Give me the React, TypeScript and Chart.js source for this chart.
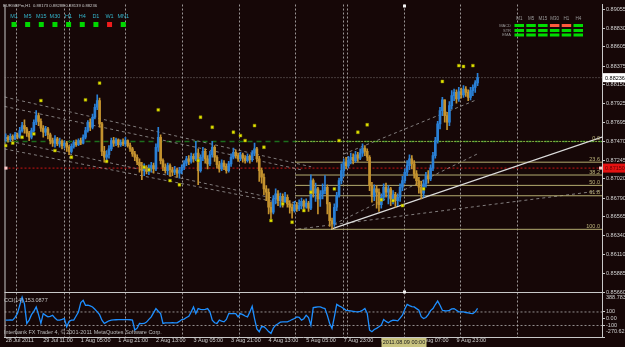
import React, { useEffect, useRef } from 'react';
import { Chart, registerables } from 'chart.js';

Chart.register(...registerables);

const BG = '#160707';
const AXIS = '#c8c8c8';
const TEXT = '#d2d2d2';
const FONT = "'Liberation Sans', Arial, sans-serif";
const UP = '#2a80d6';
const DOWN = '#c4922e';

// ---- x axis (bar index) ----
const xLabels = ['28 Jul 2011', '29 Jul 11:00', '1 Aug 05:00', '1 Aug 21:00', '2 Aug 13:00', '3 Aug 05:00', '3 Aug 21:00', '4 Aug 13:00', '5 Aug 05:00', '7 Aug 23:00', '8 Aug 15:00', '9 Aug 07:00', '9 Aug 23:00'];
const xLabelBars = [0, 16, 32, 48, 64, 80, 96, 112, 128, 144, 160, 176, 192];
const separatorBars = [4.2, 24.9, 27.1, 50.8, 75, 99.2, 123.3, 143.7, 145.4, 169.5, 193.7, 217.9];
const timeLineBar = 169.5;
const timeLineLabel = '2011.08.09 00:00';
const xMin = -0.5;
const xMax = 254;

// ---- price axis ----
const priceTicks = [0.89055, 0.8883, 0.88605, 0.88375, 0.8815, 0.87925, 0.87695, 0.8747, 0.87245, 0.8702, 0.8679, 0.86565, 0.8634, 0.8611, 0.85885, 0.8566];
const priceMin = 0.85657;
const priceMax = 0.89114;

// ---- OHLC (1e-4 units) ----
const firstOpen = 8750;
const closes = [
  8752, 8749, 8753, 8750, 8755, 8752, 8760, 8766, 8762, 8757,
  8752, 8760, 8770, 8778, 8771, 8763, 8758, 8762, 8755, 8748,
  8745, 8750, 8744, 8747, 8742, 8745, 8740, 8735, 8741, 8746,
  8743, 8748, 8745, 8752, 8760, 8770, 8764, 8776, 8788, 8796,
  8768, 8735, 8728, 8731, 8738, 8748, 8745, 8749, 8743, 8746,
  8744, 8748, 8742, 8738, 8732, 8728, 8722, 8718, 8712, 8716,
  8711, 8715, 8718, 8714, 8740, 8752, 8724, 8716, 8712, 8718,
  8713, 8710, 8713, 8709, 8712, 8716, 8721, 8726, 8723, 8729,
  8726, 8733, 8712, 8728, 8735, 8726, 8720, 8731, 8740, 8728,
  8719, 8714, 8721, 8717, 8712, 8720, 8728, 8734, 8730, 8726,
  8731, 8727, 8724, 8729, 8725, 8733, 8738, 8726, 8712, 8704,
  8690, 8686, 8668, 8662, 8678, 8684, 8676, 8681, 8674, 8680,
  8672, 8668, 8664, 8671, 8666, 8670, 8675, 8669, 8673, 8667,
  8700, 8685, 8690, 8678, 8684, 8688, 8692, 8672, 8652, 8648,
  8668, 8682, 8700, 8712, 8722, 8718, 8725, 8728, 8724, 8731,
  8727, 8733, 8739, 8735, 8728, 8694, 8681, 8690, 8686, 8671,
  8680, 8692, 8686, 8690, 8678, 8683, 8676, 8680, 8692, 8700,
  8710, 8718, 8726, 8720, 8708, 8700, 8692, 8685, 8696, 8706,
  8702, 8715, 8730, 8748, 8768, 8784, 8797, 8778, 8770, 8790,
  8802, 8806, 8798, 8807, 8803, 8810, 8806, 8800, 8808, 8812,
  8817.3, 8823.6,
];
const highs = [
  8756, 8754, 8756, 8755, 8758, 8757, 8764, 8770, 8773, 8764,
  8759, 8763, 8773, 8784, 8781, 8774, 8766, 8765, 8764, 8757,
  8751, 8754, 8752, 8751, 8749, 8748, 8747, 8742, 8744, 8748,
  8749, 8750, 8751, 8755, 8764, 8772, 8774, 8780, 8792, 8803,
  8799, 8770, 8741, 8736, 8742, 8751, 8752, 8751, 8750, 8749,
  8750, 8752, 8749, 8745, 8740, 8735, 8731, 8726, 8722, 8720,
  8718, 8719, 8722, 8721, 8744, 8764, 8755, 8726, 8720, 8721,
  8720, 8716, 8717, 8715, 8716, 8719, 8724, 8729, 8730, 8733,
  8732, 8747, 8738, 8731, 8740, 8738, 8730, 8735, 8747, 8742,
  8730, 8723, 8725, 8724, 8720, 8723, 8732, 8739, 8737, 8733,
  8734, 8733, 8730, 8732, 8731, 8736, 8745, 8740, 8729, 8715,
  8708, 8694, 8690, 8674, 8682, 8690, 8688, 8685, 8684, 8686,
  8683, 8676, 8672, 8675, 8674, 8677, 8679, 8677, 8678, 8675,
  8707, 8702, 8697, 8692, 8688, 8696, 8706, 8695, 8674, 8655,
  8672, 8686, 8703, 8720, 8726, 8728, 8729, 8733, 8732, 8735,
  8734, 8738, 8744, 8742, 8738, 8730, 8698, 8695, 8694, 8690,
  8684, 8696, 8697, 8694, 8692, 8688, 8686, 8684, 8696, 8705,
  8714, 8724, 8731, 8730, 8724, 8712, 8704, 8699, 8701, 8710,
  8712, 8719, 8734, 8752, 8771, 8788, 8800, 8797, 8782, 8795,
  8808, 8810, 8809, 8812, 8811, 8814, 8813, 8809, 8812, 8815,
  8820, 8828.8,
];
const lows = [
  8747, 8746, 8747, 8748, 8749, 8750, 8751, 8758, 8757, 8753,
  8748, 8750, 8758, 8767, 8766, 8759, 8752, 8754, 8750, 8744,
  8741, 8740, 8742, 8740, 8738, 8739, 8735, 8731, 8733, 8739,
  8741, 8742, 8743, 8744, 8750, 8758, 8760, 8762, 8774, 8785,
  8764, 8730, 8722, 8723, 8727, 8736, 8741, 8742, 8740, 8741,
  8742, 8741, 8740, 8735, 8729, 8724, 8719, 8710, 8701, 8706,
  8708, 8707, 8710, 8709, 8712, 8735, 8720, 8712, 8709, 8707,
  8705, 8706, 8707, 8704, 8703, 8708, 8713, 8718, 8719, 8721,
  8722, 8724, 8695, 8710, 8724, 8721, 8714, 8718, 8728, 8723,
  8715, 8710, 8712, 8713, 8709, 8710, 8717, 8726, 8727, 8723,
  8724, 8722, 8721, 8722, 8721, 8723, 8730, 8722, 8699, 8697,
  8683, 8676, 8660, 8654, 8660, 8672, 8670, 8668, 8668, 8674,
  8668, 8661, 8655, 8662, 8663, 8664, 8666, 8665, 8667, 8663,
  8665, 8680, 8675, 8660, 8669, 8678, 8684, 8660, 8645, 8642,
  8645, 8664, 8680, 8696, 8705, 8714, 8715, 8720, 8720, 8722,
  8723, 8725, 8729, 8730, 8724, 8688, 8674, 8676, 8667, 8663,
  8667, 8676, 8680, 8672, 8670, 8672, 8668, 8670, 8675, 8688,
  8697, 8706, 8713, 8714, 8703, 8694, 8685, 8678, 8680, 8692,
  8697, 8700, 8712, 8727, 8745, 8762, 8778, 8770, 8761, 8766,
  8786, 8796, 8793, 8795, 8799, 8800, 8801, 8796, 8797, 8802,
  8806, 8813.9,
];

// ---- CCI(14) ----
const cci = [
  -21, -20, -18, -21, 20, 76, 200, 320, 220, -70,
  -20, 60, 110, 174, 60, -70, 76, 50, 27, 35,
  52, 10, -21, -21, -10, 3, -119, -40, -21, -21,
  40, 100, 240, 272, 198, 200, 190, 174, 140, 101,
  60, -21, -70, -50, -30, -21, -18, -15, -12, -12,
  -13, -12, -14, -15, -20, -168, -140, -70, -72, -70,
  -50, -10, 27, 90, 150, 110, 76, -70, -62, -60,
  -60, -58, -60, -60, -40, -12, -5, 18, 37, 100,
  174, 76, 150, 140, 135, 140, 150, 101, -21, -60,
  -70, -21, -35, -46, -10, 76, 76, 76, 76, 27,
  76, 60, 40, 27, 100, 184, 3, -150, -192, -119,
  -119, -150, -190, -217, -140, -95, -75, -50, -46, -46,
  -46, -30, -12, 3, 27, 20, -21, 0, 52, 18,
  -95, 164, 170, 174, 174, 160, 150, 50, -70, -143,
  27, 213, 190, 174, 150, 125, 120, 115, 110, 105,
  101, 110, 125, 150, 80, -168, -192, -160, -143, -120,
  -95, -11, -40, -60, -35, -21, -25, -31, 10, 52,
  140, 213, 195, 180, 174, 150, 125, 30, 3, 18,
  60, 120, 150, 210, 261, 200, 125, 118, 115, 125,
  145, 150, 125, 101, 100, 101, 92, 86, 80, 76,
  101, 153.0877,
];
const cciTicks = [388.783, 100, 0, -100, -270.629];
const cciTickLabels = ['388.783', '100', '0.00', '-100', '-270.629'];
const cciLevels = [100, -100];
const cciMin = -270.629;
const cciMax = 388.783;

// ---- fractal markers (bar, price 1e-4) ----
const fracBars = [0, 3, 7, 12, 15, 21, 28, 34, 40, 43, 59, 61, 65, 70, 74, 82, 83, 88, 97, 100, 102, 106, 110, 113, 118, 122, 127, 130, 140, 142, 150, 154, 160, 165, 169, 178, 186, 193, 195, 199];
const fracPrices = [8742, 8745, 8752, 8756, 8796, 8736, 8728, 8797, 8817, 8723, 8716, 8713, 8785, 8700, 8695, 8724, 8776, 8764, 8758, 8754, 8748, 8766, 8740, 8652, 8672, 8650, 8664, 8686, 8690, 8748, 8758, 8767, 8677, 8676, 8670, 8690, 8819, 8838, 8837, 8838];

// ---- chart objects ----
const channelStartBar = [-0.5, -0.5, -0.5, -0.5, 144.1, 139.9, 124.6];
const channelStartPrice = [0.88004, 0.87891, 0.87487, 0.8738, 0.8732, 0.86477, 0.86418];
const channelEndBar = [130.1, 125.9, 130.1, 124.6, 200.9, 200.9, 254];
const channelEndPrice = [0.87166, 0.8713, 0.86691, 0.86691, 0.87974, 0.8732, 0.86881];
const trendBars = [138.6, 254];
const trendPrices = [0.86418, 0.87523];
const bidPrice = 0.88236;
const orderPrice = 0.8715;
const levelPrice = 0.8747;
const fibHigh = 0.8747;
const fibLow = 0.86415;
const fibRatios = [0, 23.6, 38.2, 50, 61.8, 100];
const fibStartBar = 123.3;

// ---- text widgets ----
const headerText = 'EURGBPm,H1  0.88173 0.88288 0.88139 0.88236';
const tfNames = ['M1', 'M5', 'M15', 'M30', 'H1', 'H4', 'D1', 'W1', 'MN1'];
const tfSignal = [1, 1, 1, 1, 1, 1, 1, 0, 1];
const gridCols = ['M1', 'M5', 'M15', 'M30', 'H1', 'H4'];
const gridRows = ['MACD', 'STR', 'EMA'];
const gridSignal = [
  [1, 1, 1, 0, 0, 1],
  [1, 1, 1, 1, 1, 1],
  [1, 1, 1, 1, 1, 1],
];
const cciTitle = 'CCI(14) 153.0877';
const copyright = 'Interbank FX Trader 4, \u00a9 2001-2011 MetaQuotes Software Corp.';

const fibPrice = (r: number) => fibHigh - ((fibHigh - fibLow) * r) / 100;

const noPad = (s: any) => {
  s.paddingTop = 0;
  s.paddingBottom = 0;
  s.paddingLeft = 0;
  s.paddingRight = 0;
};

const mtPlugin = {
  id: 'mt4',
  beforeDraw(chart: any) {
    const { ctx, width, height } = chart;
    ctx.save();
    ctx.fillStyle = BG;
    ctx.fillRect(0, 0, width, height);
    ctx.restore();
  },
  beforeDatasetsDraw(chart: any) {
    const { ctx } = chart;
    const xs = chart.scales.x;
    const ys = chart.scales.y;
    const yc = chart.scales.yc;
    ctx.save();
    ctx.lineWidth = 1;
    ctx.strokeStyle = 'rgba(205,205,205,0.72)';
    ctx.setLineDash([2, 2]);
    separatorBars.forEach((b) => {
      const px = Math.round(xs.getPixelForValue(b)) + 0.5;
      ctx.beginPath();
      ctx.moveTo(px, ys.top);
      ctx.lineTo(px, yc.bottom);
      ctx.stroke();
    });
    ctx.setLineDash([]);
    ctx.strokeStyle = AXIS;
    const sy = Math.round(ys.bottom) + 0.5;
    ctx.beginPath();
    ctx.moveTo(xs.left, sy);
    ctx.lineTo(xs.right, sy);
    ctx.stroke();
    ctx.beginPath();
    ctx.moveTo(xs.left + 0.5, ys.top);
    ctx.lineTo(xs.left + 0.5, yc.bottom);
    ctx.stroke();
    ctx.restore();
  },
  afterDraw(chart: any) {
    const { ctx } = chart;
    const xs = chart.scales.x;
    const ys = chart.scales.y;
    const yc = chart.scales.yc;
    const f = (s: number) => `${s}px ${FONT}`;
    ctx.save();
    ctx.textBaseline = 'middle';

    // fib labels
    ctx.font = f(5.5);
    ctx.textAlign = 'right';
    ctx.fillStyle = '#bdb57c';
    fibRatios.forEach((r) => {
      const py = ys.getPixelForValue(fibPrice(r));
      ctx.fillText(r.toFixed(1), xs.right - 2, py - 3);
    });

    // vertical time line end points
    const vx = Math.round(xs.getPixelForValue(timeLineBar));
    ctx.fillStyle = '#f4f4f4';
    ctx.fillRect(vx - 1, ys.top, 3, 3);
    ctx.fillRect(vx - 1, ys.bottom - 2, 3, 3);

    // order markers
    const oy = ys.getPixelForValue(orderPrice);
    ctx.fillStyle = '#ffc8c8';
    ctx.fillRect(xs.left, oy - 1.5, 3, 3);
    ctx.fillRect(xs.right - 3, oy - 1.5, 3, 3);

    // price boxes on axis
    const by = ys.getPixelForValue(bidPrice);
    ctx.textAlign = 'left';
    ctx.font = f(5.5);
    ctx.fillStyle = '#ffffff';
    ctx.fillRect(ys.left + 1, by - 4.5, 24, 9);
    ctx.fillStyle = '#000000';
    ctx.fillText(bidPrice.toFixed(5), ys.left + 3, by + 0.5);
    ctx.fillStyle = '#e41212';
    ctx.fillRect(ys.left + 1, oy - 4.5, 24, 9);
    ctx.fillStyle = '#640000';
    ctx.fillText(orderPrice.toFixed(5), ys.left + 3, oy + 0.5);

    // header
    ctx.font = f(4.2);
    ctx.fillStyle = '#c8c8c8';
    ctx.fillText(headerText, 3, 5.5);

    // timeframe row
    ctx.textAlign = 'center';
    ctx.font = f(5.5);
    tfNames.forEach((n, i) => {
      const cx = 14 + i * 13.65;
      ctx.fillStyle = '#33b5cc';
      ctx.fillText(n, cx, 16.5);
      ctx.fillStyle = tfSignal[i] ? '#00d800' : '#ee1c1c';
      ctx.fillRect(cx - 2.5, 22, 5, 5);
    });

    // signal grid (top right)
    ctx.font = f(4.5);
    ctx.fillStyle = '#9a9a9a';
    gridCols.forEach((c, i) => ctx.fillText(c, 519.3 + i * 11.8, 19));
    ctx.textAlign = 'right';
    ctx.font = f(4);
    const rowY = [25.5, 30.5, 35];
    gridRows.forEach((r, j) => {
      ctx.fillStyle = '#9a9a9a';
      ctx.fillText(r, 511, rowY[j]);
      gridSignal[j].forEach((s, i) => {
        ctx.fillStyle = s ? '#00dd00' : '#ff5a3c';
        ctx.fillRect(514.5 + i * 11.8, rowY[j] - 1.5, 9.5, 3);
      });
    });

    // CCI texts
    ctx.textAlign = 'left';
    ctx.font = f(5.5);
    ctx.fillStyle = '#c4c4c4';
    ctx.fillText(cciTitle, 4, yc.top + 8);
    ctx.fillStyle = '#bcbcbc';
    ctx.fillText(copyright, 4, yc.bottom - 5);

    // time box on x axis
    ctx.fillStyle = '#c8c27e';
    ctx.fillRect(vx - 22.5, xs.top + 1, 45, 9);
    ctx.fillStyle = '#1a1a1a';
    ctx.textAlign = 'center';
    ctx.fillText(timeLineLabel, vx, xs.top + 5.5);

    ctx.restore();
  },
};

function hLine(price: number, from: number, to: number, color: string, dash: number[], width: number, order: number) {
  return {
    type: 'line',
    data: [{ x: from, y: price }, { x: to, y: price }],
    borderColor: color,
    borderDash: dash,
    borderWidth: width,
    pointRadius: 0,
    yAxisID: 'y',
    order,
  };
}

export default function App() {
  const ref = useRef<HTMLCanvasElement>(null);

  useEffect(() => {
    document.body.style.margin = '0';
    document.body.style.background = BG;
    const opens = closes.map((_, i) => (i === 0 ? firstOpen : closes[i - 1]));
    const isUp = closes.map((c, i) => c >= opens[i]);
    const colors = isUp.map((u) => (u ? UP : DOWN));

    const datasets: any[] = [];
    datasets.push({
      type: 'scatter',
      data: fracBars.map((b, i) => ({ x: b, y: fracPrices[i] / 10000 })),
      pointStyle: 'rect',
      pointRadius: 2,
      backgroundColor: '#e6e600',
      borderColor: '#8a8a00',
      borderWidth: 0.5,
      yAxisID: 'y',
      order: 0,
    });
    datasets.push({
      type: 'bar',
      data: closes.map((c, i) => ({ x: i, y: [opens[i] / 10000, c / 10000] })),
      backgroundColor: colors,
      barThickness: 2,
      minBarLength: 1,
      grouped: false,
      yAxisID: 'y',
      order: 1,
    });
    datasets.push({
      type: 'bar',
      data: closes.map((_, i) => ({ x: i, y: [lows[i] / 10000, highs[i] / 10000] })),
      backgroundColor: colors,
      barThickness: 1,
      grouped: false,
      yAxisID: 'y',
      order: 2,
    });
    datasets.push({
      type: 'line',
      data: cci.map((v, i) => ({ x: i, y: v })),
      borderColor: '#1e8fff',
      borderWidth: 1.3,
      pointRadius: 0,
      tension: 0,
      yAxisID: 'yc',
      order: 1,
    });
    cciLevels.forEach((lv) => {
      datasets.push({
        type: 'line',
        data: [{ x: xMin, y: lv }, { x: xMax, y: lv }],
        borderColor: 'rgba(200,200,200,0.7)',
        borderDash: [2, 2],
        borderWidth: 1,
        pointRadius: 0,
        yAxisID: 'yc',
        order: 6,
      });
    });
    datasets.push({
      type: 'line',
      data: trendBars.map((b, i) => ({ x: b, y: trendPrices[i] })),
      borderColor: '#dcdcdc',
      borderWidth: 1.2,
      pointRadius: 0,
      yAxisID: 'y',
      order: 4,
    });
    channelStartBar.forEach((b, i) => {
      datasets.push({
        type: 'line',
        data: [{ x: b, y: channelStartPrice[i] }, { x: channelEndBar[i], y: channelEndPrice[i] }],
        borderColor: 'rgba(175,175,175,0.7)',
        borderDash: [3, 3],
        borderWidth: 1,
        pointRadius: 0,
        yAxisID: 'y',
        order: 7,
      });
    });
    datasets.push(hLine(levelPrice, xMin, xMax, '#1c6e1c', [5, 4], 1.6, 9));
    fibRatios.forEach((r) => {
      datasets.push(hLine(fibPrice(r), fibStartBar, xMax, r === 0 ? '#86b040' : '#b4ac70', r === 0 ? [2, 1] : [], 1, 5));
    });
    datasets.push(hLine(orderPrice, xMin, xMax, '#c81414', [2, 2], 1, 8));
    datasets.push(hLine(bidPrice, xMin, xMax, 'rgba(185,185,185,0.6)', [1, 2], 1, 8));

    const tickFont = { family: FONT, size: 5.5 };
    const chart = new Chart(ref.current as HTMLCanvasElement, {
      type: 'bar',
      data: { datasets },
      plugins: [mtPlugin],
      options: {
        animation: false,
        responsive: false,
        devicePixelRatio: 1,
        events: [],
        layout: { padding: { left: 2, top: 1, right: 0, bottom: 0 } },
        plugins: { legend: { display: false }, tooltip: { enabled: false } },
        scales: {
          x: {
            type: 'linear',
            min: xMin,
            max: xMax,
            offset: false,
            grid: { display: true, drawOnChartArea: false, drawTicks: false, color: AXIS },
            border: { display: true, color: AXIS, width: 1 },
            ticks: {
              autoSkip: false,
              maxRotation: 0,
              minRotation: 0,
              align: 'start',
              padding: 0,
              color: TEXT,
              font: tickFont,
              callback: (v: any) => {
                const k = xLabelBars.indexOf(Number(v));
                return k >= 0 ? xLabels[k] : '';
              },
            },
            afterBuildTicks: (s: any) => {
              s.ticks = xLabelBars.map((v) => ({ value: v }));
            },
            afterFit: (s: any) => {
              s.height = 10;
              noPad(s);
            },
          },
          y: {
            type: 'linear',
            position: 'right',
            stack: 'panes',
            stackWeight: 291,
            min: priceMin,
            max: priceMax,
            grid: { drawOnChartArea: false, drawTicks: true, tickLength: 3, color: AXIS },
            border: { display: true, color: AXIS },
            ticks: {
              autoSkip: false,
              padding: 1,
              color: TEXT,
              font: tickFont,
              callback: (v: any) => Number(v).toFixed(5),
            },
            afterBuildTicks: (s: any) => {
              s.ticks = priceTicks.map((v) => ({ value: v }));
            },
            afterFit: (s: any) => {
              s.width = 23;
              noPad(s);
            },
          },
          yc: {
            type: 'linear',
            position: 'right',
            stack: 'panes',
            stackWeight: 45,
            min: cciMin,
            max: cciMax,
            grid: { drawOnChartArea: false, drawTicks: true, tickLength: 3, color: AXIS },
            border: { display: true, color: AXIS },
            ticks: {
              autoSkip: false,
              padding: 1,
              color: TEXT,
              font: { family: FONT, size: 5.5, lineHeight: 2 },
              callback: (v: any) => {
                const k = cciTicks.indexOf(Number(v));
                if (k < 0) return '';
                const t = cciTickLabels[k];
                if (k === 0) return ['', t];
                if (k === cciTicks.length - 1) return [t, ''];
                return t;
              },
            },
            afterBuildTicks: (s: any) => {
              s.ticks = cciTicks.map((v) => ({ value: v }));
            },
            afterFit: (s: any) => {
              s.width = 23;
              noPad(s);
            },
          },
        },
      } as any,
    } as any);
    return () => chart.destroy();
  }, []);

  return (
    <div style={{ width: 625, height: 347, background: BG, overflow: 'hidden' }}>
      <canvas ref={ref} width={625} height={347} style={{ display: 'block', width: 625, height: 347 }} />
    </div>
  );
}
